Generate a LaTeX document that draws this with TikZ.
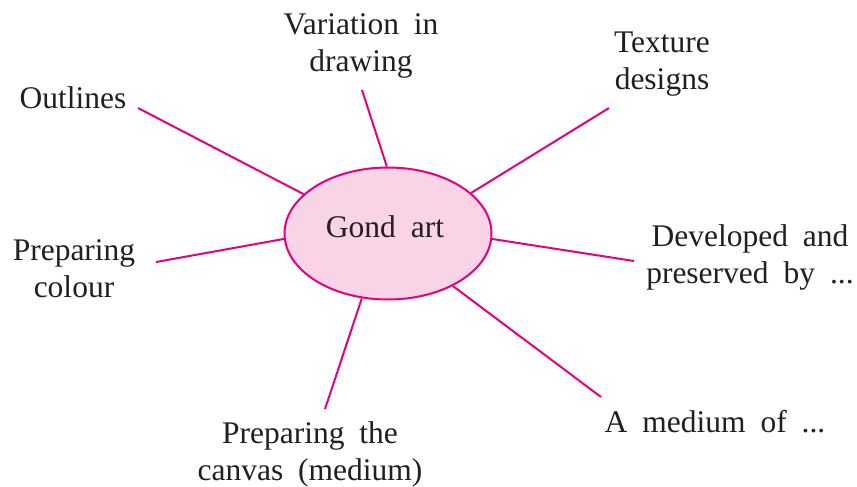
\documentclass[tikz,border=0pt]{standalone}
\usepackage{fontspec}
\setmainfont[WordSpace=1.9]{Liberation Serif}
\usetikzlibrary{shapes.geometric}
\definecolor{mag}{HTML}{E4007F}
\definecolor{pinkfill}{HTML}{F8D4E6}
\definecolor{txt}{HTML}{231F20}
\tikzset{
  lbl/.style={align=center, inner sep=0pt, text=txt, anchor=base,
    font=\fontsize{31.5}{37}\selectfont},
  spoke/.style={draw=mag, line width=2pt},
}
\begin{document}
\begin{tikzpicture}[x=1pt,y=-1pt]
\useasboundingbox (0,0) rectangle (857,487);
\node[ellipse, draw=mag, fill=pinkfill, line width=2pt, minimum width=207pt, minimum height=132pt, inner sep=0pt] (c) at (388,233.5) {};
\node[lbl] (g) at (385,237) {Gond art};
\node[lbl] (o) at (73,108) {Outlines};
\node[lbl] (v) at (361,72) {Variation in\\drawing};
\node[lbl] (t) at (662,89) {Texture\\designs};
\node[lbl] (d) at (750,283) {Developed and\\preserved by ...};
\node[lbl] (m) at (715,432) {A medium of ...};
\node[lbl] (p) at (310,480) {Preparing the\\canvas (medium)};
\node[lbl] (k) at (74,297) {Preparing\\colour};
\coordinate (o1) at (138,108);
\coordinate (v1) at (362,90);
\coordinate (t1) at (609,108);
\coordinate (d1) at (634,261);
\coordinate (m1) at (601,397);
\coordinate (p1) at (325,409);
\coordinate (k1) at (156,262);
\draw[spoke] (o1) -- (c.155.6);
\draw[spoke] (v1) -- (c.91.7);
\draw[spoke] (t1) -- (c.26.3);
\draw[spoke] (d1) -- (c.-3.6);
\draw[spoke] (m1) -- (c.-39.9);
\draw[spoke] (p1) -- (c.-112.1);
\draw[spoke] (k1) -- (c.183.6);
\end{tikzpicture}
\end{document}
